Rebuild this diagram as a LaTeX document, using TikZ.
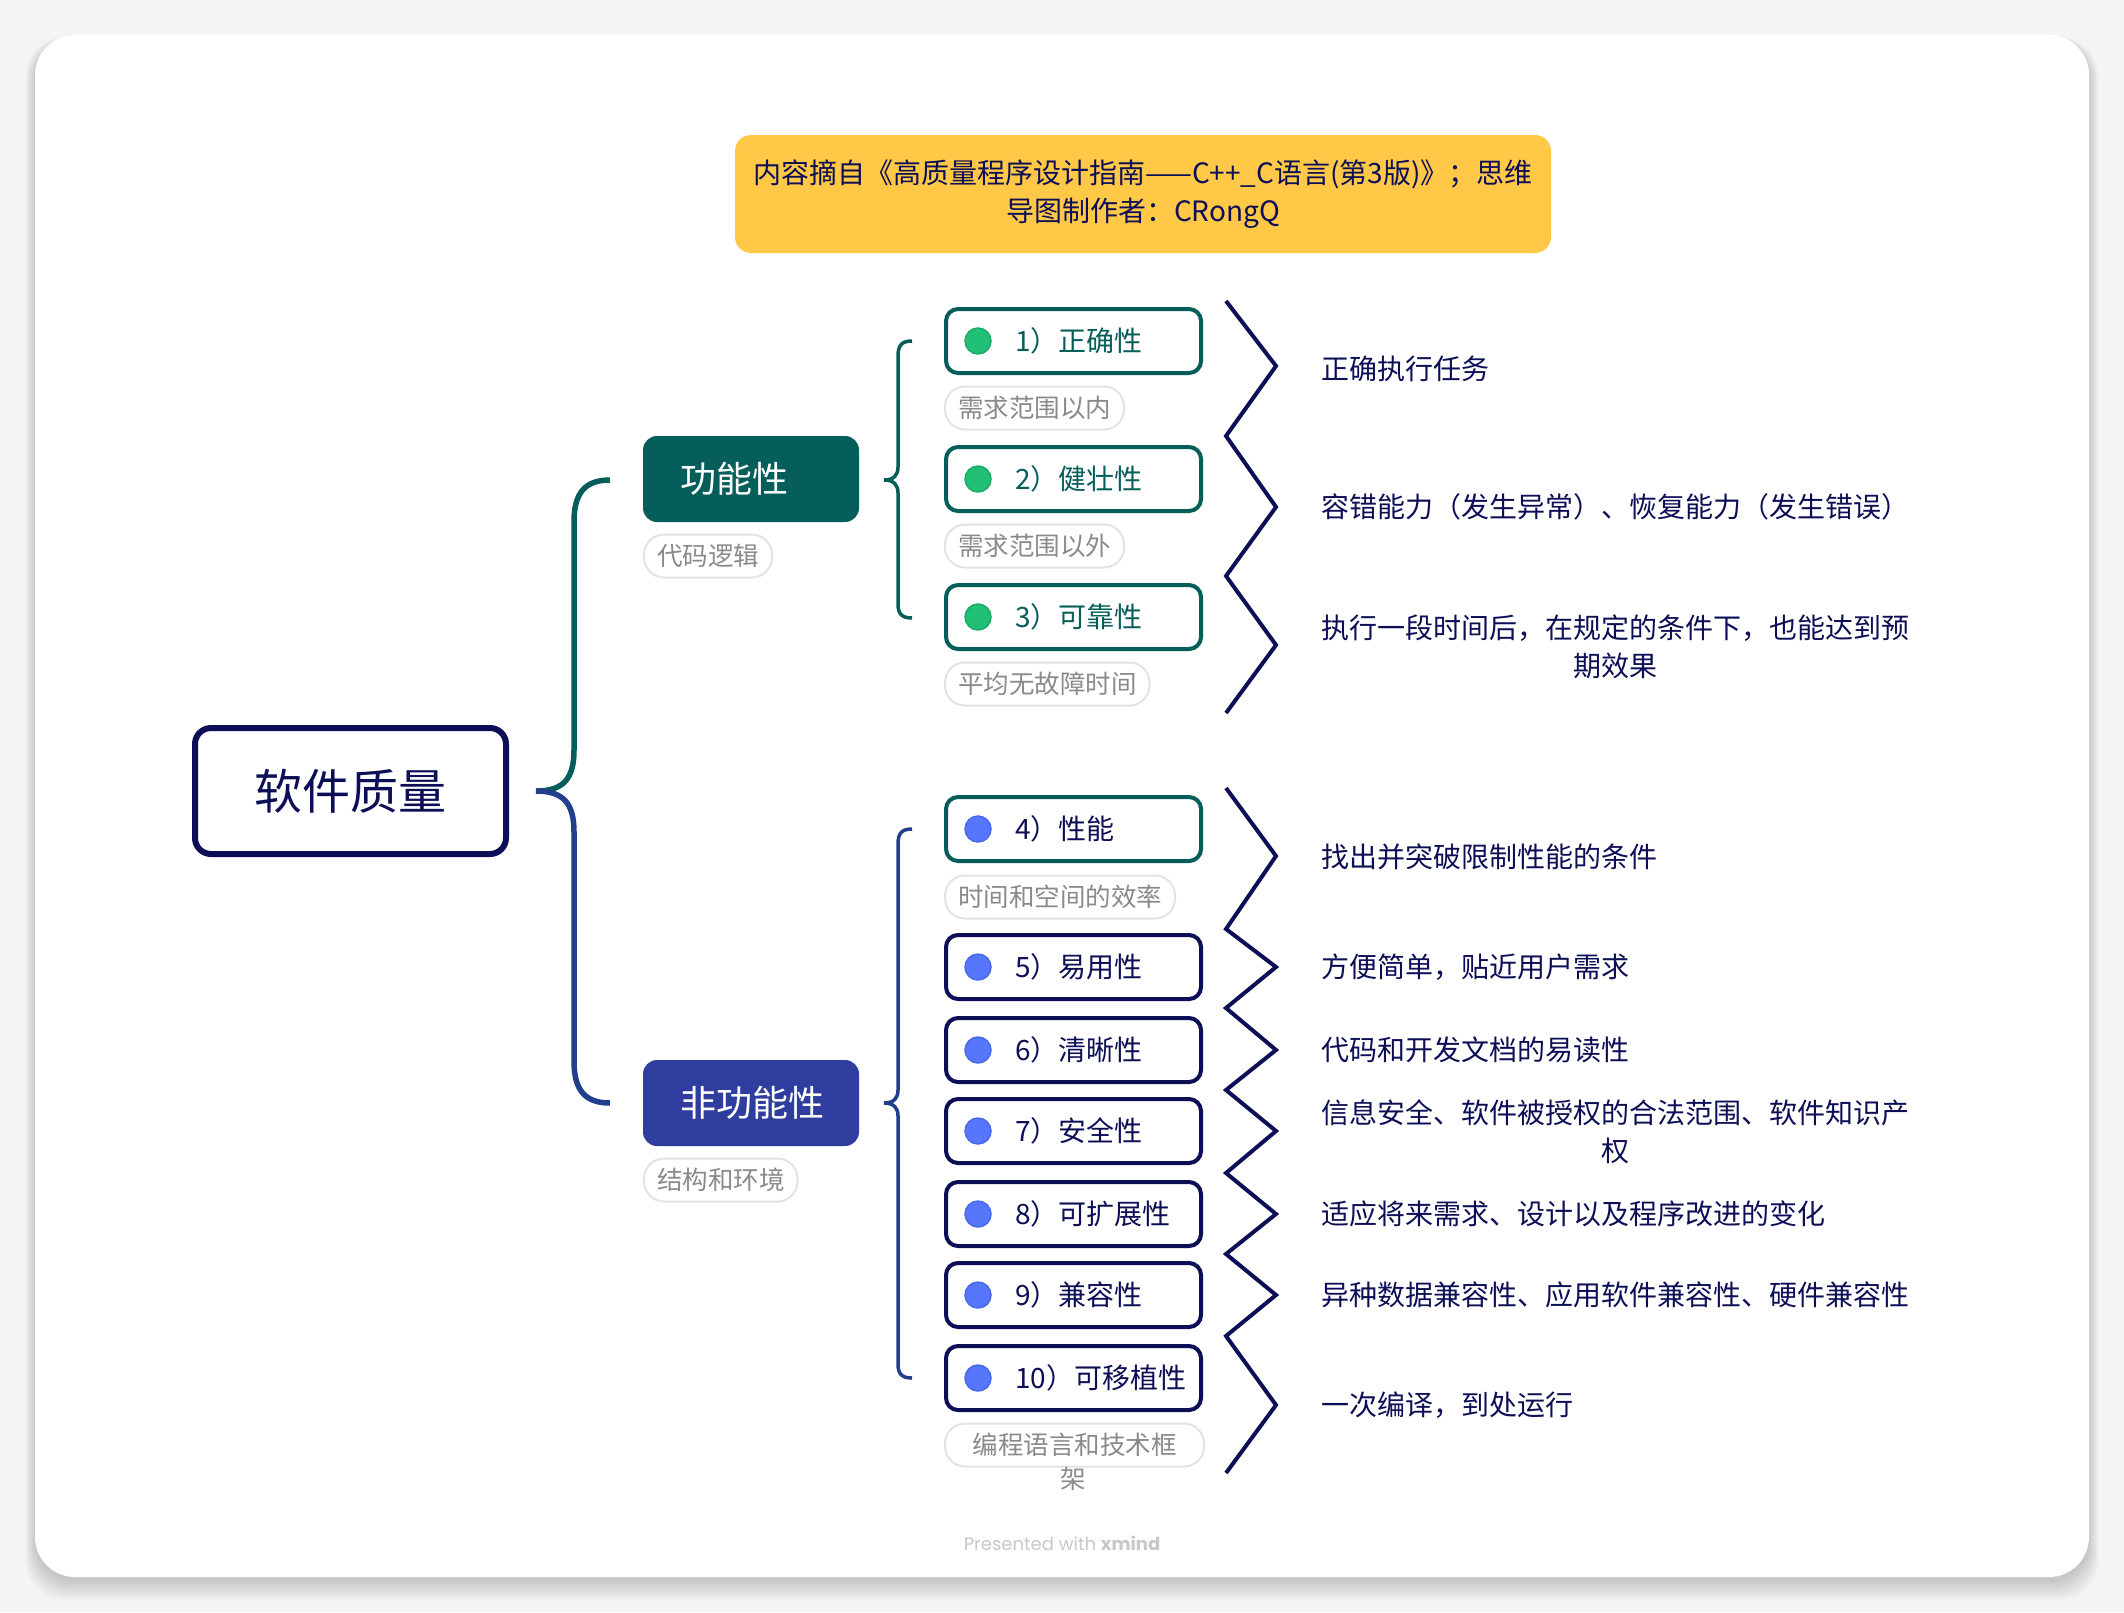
\documentclass[tikz,border=0pt]{standalone}
\usepackage{fontspec}
\setmainfont{Noto Sans CJK SC}
\newfontfamily\wmfont{Poppins}
\newcommand\myfs[2]{\fontsize{#1}{#2}\selectfont}
\definecolor{cnavy}{HTML}{0C0E56}
\definecolor{cteal}{HTML}{055E5A}
\definecolor{cindigo}{HTML}{2F3E9E}
\definecolor{cblueline}{HTML}{213F8C}
\definecolor{ctitle}{HTML}{FFC847}
\definecolor{cbg}{HTML}{F4F4F4}
\definecolor{clblborder}{HTML}{E3E3E3}
\definecolor{clbltext}{HTML}{8A8A8A}
\definecolor{cgreen}{HTML}{22BF76}
\definecolor{cgreenb}{HTML}{1FAA68}
\definecolor{cdotblue}{HTML}{5677FC}
\definecolor{cdotblueb}{HTML}{4A68EC}
\definecolor{cwm}{HTML}{C8C8C8}
\begin{document}
\begin{tikzpicture}[x=1pt,y=-1pt,
  rootbox/.style={draw=cnavy, line width=6pt, rounded corners=16pt, minimum width=311pt, minimum height=126pt, inner sep=0pt, fill=white, text=cnavy, font=\myfs{48}{56}},
  mainbox/.style={rounded corners=14pt, minimum width=216pt, minimum height=86pt, inner sep=0pt},
  maintext/.style={text=white, font=\myfs{36}{42}, inner sep=0pt, anchor=west},
  childbox/.style={draw, line width=4pt, rounded corners=12pt, minimum width=255pt, minimum height=64pt, inner sep=0pt, fill=white},
  ctext/.style={font=\myfs{28}{34}, inner sep=0pt, anchor=west},
  dotg/.style={circle, fill=cgreen, draw=cgreenb, line width=1.5pt, minimum size=26pt, inner sep=0pt},
  dotb/.style={circle, fill=cdotblue, draw=cdotblueb, line width=1.5pt, minimum size=26pt, inner sep=0pt},
  lbl/.style={draw=clblborder, line width=2pt, fill=white, rounded corners=20pt, minimum height=43pt, inner xsep=13pt, inner ysep=0pt, text=clbltext, font=\myfs{25.5}{30}, anchor=west},
  lbltxt/.style={text=clbltext, font=\myfs{25.5}{30}, inner sep=0pt},
  desc/.style={text=cnavy, font=\myfs{28}{38}, inner sep=0pt, anchor=west, align=center},
  zig/.style={draw=cnavy, line width=4pt, line join=miter},
  brk/.style={line width=5.5pt},
  brks/.style={line width=3.5pt}
]
\useasboundingbox (0,0) rectangle (2124,1612);
\fill[cbg] (0,0) rectangle (2124,1612);
% card shadow
\foreach \i in {0,...,14} {
  \fill[black, opacity=0.012, rounded corners=40pt] (35-0.7*\i,35-0.3*\i+6) rectangle (2089+0.7*\i,1577+1.4*\i+4);
}
\fill[white, rounded corners=40pt] (35,35) rectangle (2089,1577);

% title
\node[fill=ctitle, rounded corners=16pt, minimum width=816pt, minimum height=118pt, inner sep=0pt, text=cnavy, font=\myfs{28}{38}, align=center] (title) at (1143,194) {内容摘自《高质量程序设计指南——C++\_C语言(第3版)》；思维\\导图制作者：CRongQ};

% root
\node[rootbox] (root) at (350.5,791) {软件质量};

% main branches
\node[mainbox, fill=cteal] (fn) at (751,479) {};
\node[maintext] (fnt) at (680,479) {功能性};
\node[lbl] (fnl) at (643,556) {代码逻辑};
\node[mainbox, fill=cindigo] (nf) at (751,1103) {};
\node[maintext] (nft) at (680,1103) {非功能性};
\node[lbl] (nfl) at (643,1180) {结构和环境};

% root connectors
\coordinate (rb) at (536,791);
\coordinate (fnin) at (610,480);
\coordinate (nfin) at (610,1103);
\draw[brk, cteal] (rb) .. controls (564,791) and (574,778) .. (574,750) -- (574,522) .. controls (574,494) and (584,480) .. (fnin);
\draw[brk, cblueline] (rb) .. controls (564,791) and (574,804) .. (574,832) -- (574,1061) .. controls (574,1089) and (584,1103) .. (nfin);

% child brackets
\draw[brks, cteal] (912,341) .. controls (902,341) and (898,345) .. (898,356) -- (898,467) .. controls (898,475) and (894,480) .. (884,480) .. controls (894,480) and (898,485) .. (898,493) -- (898,604) .. controls (898,614) and (902,618) .. (912,618);
\draw[brks, cblueline] (912,829) .. controls (902,829) and (898,833) .. (898,844) -- (898,1090) .. controls (898,1098) and (894,1103) .. (884,1103) .. controls (894,1103) and (898,1108) .. (898,1116) -- (898,1364) .. controls (898,1374) and (902,1378) .. (912,1378);

% children (functional)
\node[childbox, draw=cteal] (c1) at (1073.5,341) {};
\node[dotg] (d1) at (978,341) {};
\node[ctext, text=cteal] (t1) at (1015,341) {1）正确性};
\node[lbl] (l1) at (944,408) {需求范围以内};

\node[childbox, draw=cteal] (c2) at (1073.5,479) {};
\node[dotg] (d2) at (978,479) {};
\node[ctext, text=cteal] (t2) at (1015,479) {2）健壮性};
\node[lbl] (l2) at (944,546) {需求范围以外};

\node[childbox, draw=cteal] (c3) at (1073.5,617) {};
\node[dotg] (d3) at (978,617) {};
\node[ctext, text=cteal] (t3) at (1015,617) {3）可靠性};
\node[lbl] (l3) at (944,684) {平均无故障时间};

% children (non-functional)
\node[childbox, draw=cteal] (c4) at (1073.5,829) {};
\node[dotb] (d4) at (978,829) {};
\node[ctext, text=cnavy] (t4) at (1015,829) {4）性能};
\node[lbl] (l4) at (944,897) {时间和空间的效率};

\node[childbox, draw=cnavy] (c5) at (1073.5,967) {};
\node[dotb] (d5) at (978,967) {};
\node[ctext, text=cnavy] (t5) at (1015,967) {5）易用性};

\node[childbox, draw=cnavy] (c6) at (1073.5,1050) {};
\node[dotb] (d6) at (978,1050) {};
\node[ctext, text=cnavy] (t6) at (1015,1050) {6）清晰性};

\node[childbox, draw=cnavy] (c7) at (1073.5,1131) {};
\node[dotb] (d7) at (978,1131) {};
\node[ctext, text=cnavy] (t7) at (1015,1131) {7）安全性};

\node[childbox, draw=cnavy] (c8) at (1073.5,1214) {};
\node[dotb] (d8) at (978,1214) {};
\node[ctext, text=cnavy] (t8) at (1015,1214) {8）可扩展性};

\node[childbox, draw=cnavy] (c9) at (1073.5,1295) {};
\node[dotb] (d9) at (978,1295) {};
\node[ctext, text=cnavy] (t9) at (1015,1295) {9）兼容性};

\node[childbox, draw=cnavy] (c10) at (1073.5,1378) {};
\node[dotb] (d10) at (978,1378) {};
\node[ctext, text=cnavy] (t10) at (1015,1378) {10）可移植性};
\node[lbl, minimum width=259pt] (l10) at (944,1445) {编程语言和技术框};
\node[lbltxt] (l10b) at (1073.5,1479) {架};

% zigzags
\draw[zig] (1226,301) -- (1276,366) -- (1226,436) -- (1276,507) -- (1226,576) -- (1276,645) -- (1226,713);
\draw[zig] (1226,788) -- (1276,856) -- (1226,929) -- (1276,967) -- (1226,1008) -- (1276,1050) -- (1226,1090) -- (1276,1131) -- (1226,1173) -- (1276,1214) -- (1226,1254) -- (1276,1295) -- (1226,1336) -- (1276,1405) -- (1226,1473);

% descriptions
\node[desc] (e1) at (1321,369) {正确执行任务};
\node[desc] (e2) at (1321,507) {容错能力（发生异常）、恢复能力（发生错误）};
\node[desc] (e3) at (1321,647) {执行一段时间后，在规定的条件下，也能达到预\\期效果};
\node[desc] (e4) at (1321,857) {找出并突破限制性能的条件};
\node[desc] (e5) at (1321,967) {方便简单，贴近用户需求};
\node[desc] (e6) at (1321,1050) {代码和开发文档的易读性};
\node[desc] (e7) at (1321,1132) {信息安全、软件被授权的合法范围、软件知识产\\权};
\node[desc] (e8) at (1321,1214) {适应将来需求、设计以及程序改进的变化};
\node[desc] (e9) at (1321,1295) {异种数据兼容性、应用软件兼容性、硬件兼容性};
\node[desc] (e10) at (1321,1405) {一次编译，到处运行};

% watermark
\node[text=cwm, font=\wmfont\myfs{18}{22}, inner sep=0pt] (wm) at (1062,1543) {Presented with \textbf{xmind}};
\end{tikzpicture}
\end{document}
